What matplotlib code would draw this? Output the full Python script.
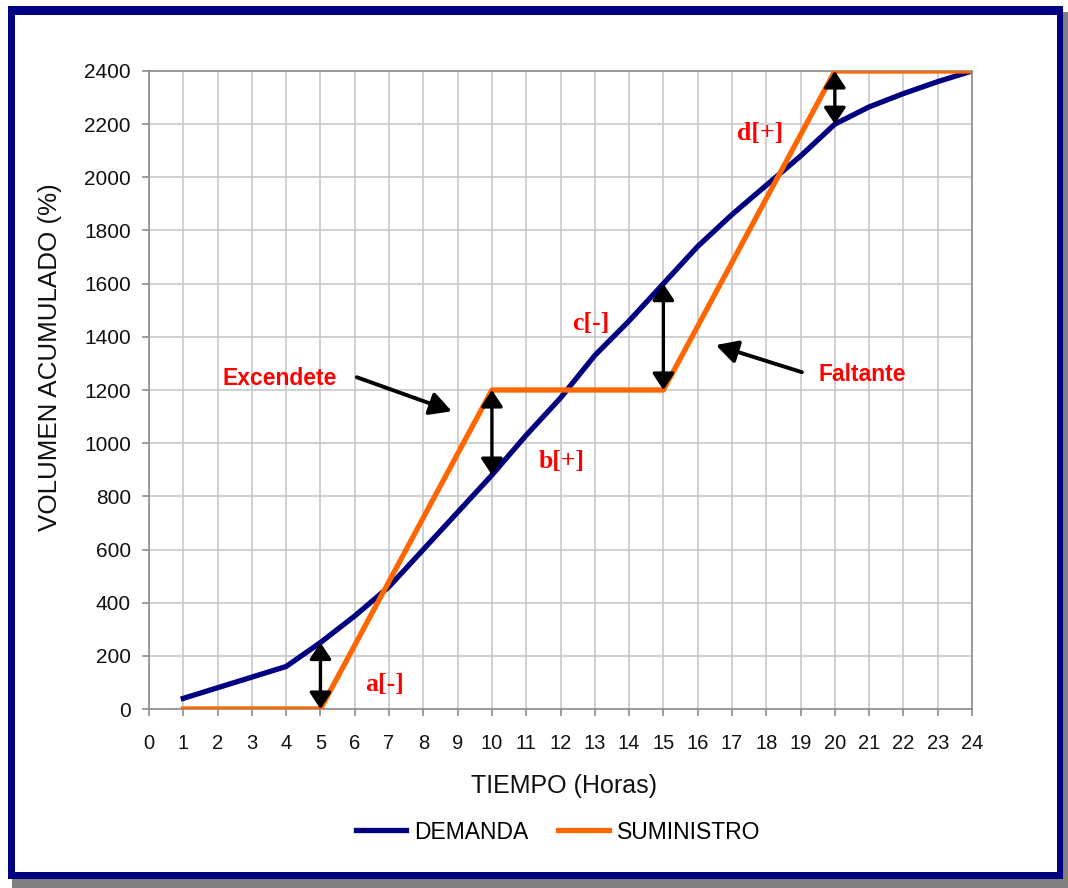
import matplotlib.pyplot as plt
from matplotlib.patches import Rectangle

# Datos (lectura del gráfico)
horas = list(range(1, 25))
demanda = [40, 80, 120, 160, 250, 350, 460, 600, 740, 880, 1030, 1170,
           1330, 1460, 1600, 1740, 1860, 1970, 2080, 2200, 2265, 2315, 2360, 2400]
suministro = [0, 0, 0, 0, 0, 240, 480, 720, 960, 1200, 1200, 1200,
              1200, 1200, 1200, 1440, 1680, 1920, 2160, 2400, 2400, 2400, 2400, 2400]
horas_flecha = [5, 10, 15, 20]
etiquetas = ['a[-]', 'b[+]', 'c[-]', 'd[+]']
pos_etiquetas = [(6.88, 94), (12.04, 932), (12.89, 1451), (17.81, 2166)]

plt.rcParams['font.family'] = ['Liberation Sans', 'DejaVu Sans']

fig = plt.figure(figsize=(10.68, 8.88), dpi=100)

# Marco con sombra
W, H = 1068, 888
fig.patches.append(Rectangle((12 / W, 0), 1 - 12 / W, 1 - 12 / H, transform=fig.transFigure,
                             facecolor='#808080', edgecolor='none', zorder=-3))
fig.patches.append(Rectangle((8 / W, 9 / H), (1063 - 8) / W, (879 - 6) / H, transform=fig.transFigure,
                             facecolor='#000080', edgecolor='none', zorder=-2))
fig.patches.append(Rectangle((15 / W, 16 / H), (1057 - 15) / W, (872 - 15) / H, transform=fig.transFigure,
                             facecolor='white', edgecolor='none', zorder=-1))

ax = fig.add_axes([149 / W, (H - 709) / H, (972 - 149) / W, (709 - 71) / H])
ax.set_facecolor('none')

ax.plot(horas, demanda, color='#000080', lw=3.8, label='DEMANDA', zorder=3)
ax.plot(horas, suministro, color='#ff6600', lw=3.8, label='SUMINISTRO', zorder=3)

ax.set_xlim(0, 24)
ax.set_ylim(0, 2400)
ax.set_xticks(range(0, 25))
ax.set_yticks(range(0, 2401, 200))
ax.grid(True, color='#c8c8c8', lw=1.2)
ax.set_axisbelow(True)
for s in ax.spines.values():
    s.set_color('#8c8c8c')
    s.set_linewidth(1.2)
ax.tick_params(axis='x', colors='#8c8c8c', length=5, width=1.2, pad=13,
               labelcolor='#111111', labelsize=14.5)
ax.tick_params(axis='y', colors='#8c8c8c', length=5, width=1.2, pad=8,
               labelcolor='#111111', labelsize=15)

ax.set_xlabel('TIEMPO (Horas)', fontsize=18, color='#111111')
ax.xaxis.set_label_coords(0.504, -0.102)
ax.set_ylabel('VOLUMEN ACUMULADO (%)', fontsize=18.7, color='#111111')
ax.yaxis.set_label_coords(-0.106, 0.552)

# Flechas dobles entre curvas
for h in horas_flecha:
    i = horas.index(h)
    ax.annotate('', xy=(h, demanda[i]), xytext=(h, suministro[i]),
                arrowprops=dict(arrowstyle='<|-|>,head_length=0.5,head_width=0.33',
                                color='black', lw=2.4, shrinkA=0, shrinkB=0,
                                mutation_scale=20), zorder=4)

for txt, (x, y) in zip(etiquetas, pos_etiquetas):
    ax.text(x, y, txt, color='red', fontsize=18.5, fontweight='bold',
            family='Liberation Serif', ha='center', va='center', zorder=5)

# Excedente / Faltante
ax.text(3.82, 1245, 'Excendete', color='red', fontsize=16.5, fontweight='bold',
        ha='center', va='center')
ax.annotate('', xy=(8.83, 1120), xytext=(6.06, 1248),
            arrowprops=dict(arrowstyle='-|>,head_length=0.65,head_width=0.35',
                            color='black', lw=2.8, shrinkA=0, shrinkB=0, mutation_scale=20))
ax.text(20.79, 1260, 'Faltante', color='red', fontsize=16.5, fontweight='bold',
        ha='center', va='center')
ax.annotate('', xy=(16.53, 1369), xytext=(19.04, 1267),
            arrowprops=dict(arrowstyle='-|>,head_length=0.65,head_width=0.35',
                            color='black', lw=2.8, shrinkA=0, shrinkB=0, mutation_scale=20))

fig.legend(loc='center', bbox_to_anchor=(558 / W, (H - 832) / H), ncol=2, frameon=False,
           fontsize=16.5, handlelength=2.2, handletextpad=0.35, columnspacing=1.3)

fig.savefig('out.png', dpi=100)
